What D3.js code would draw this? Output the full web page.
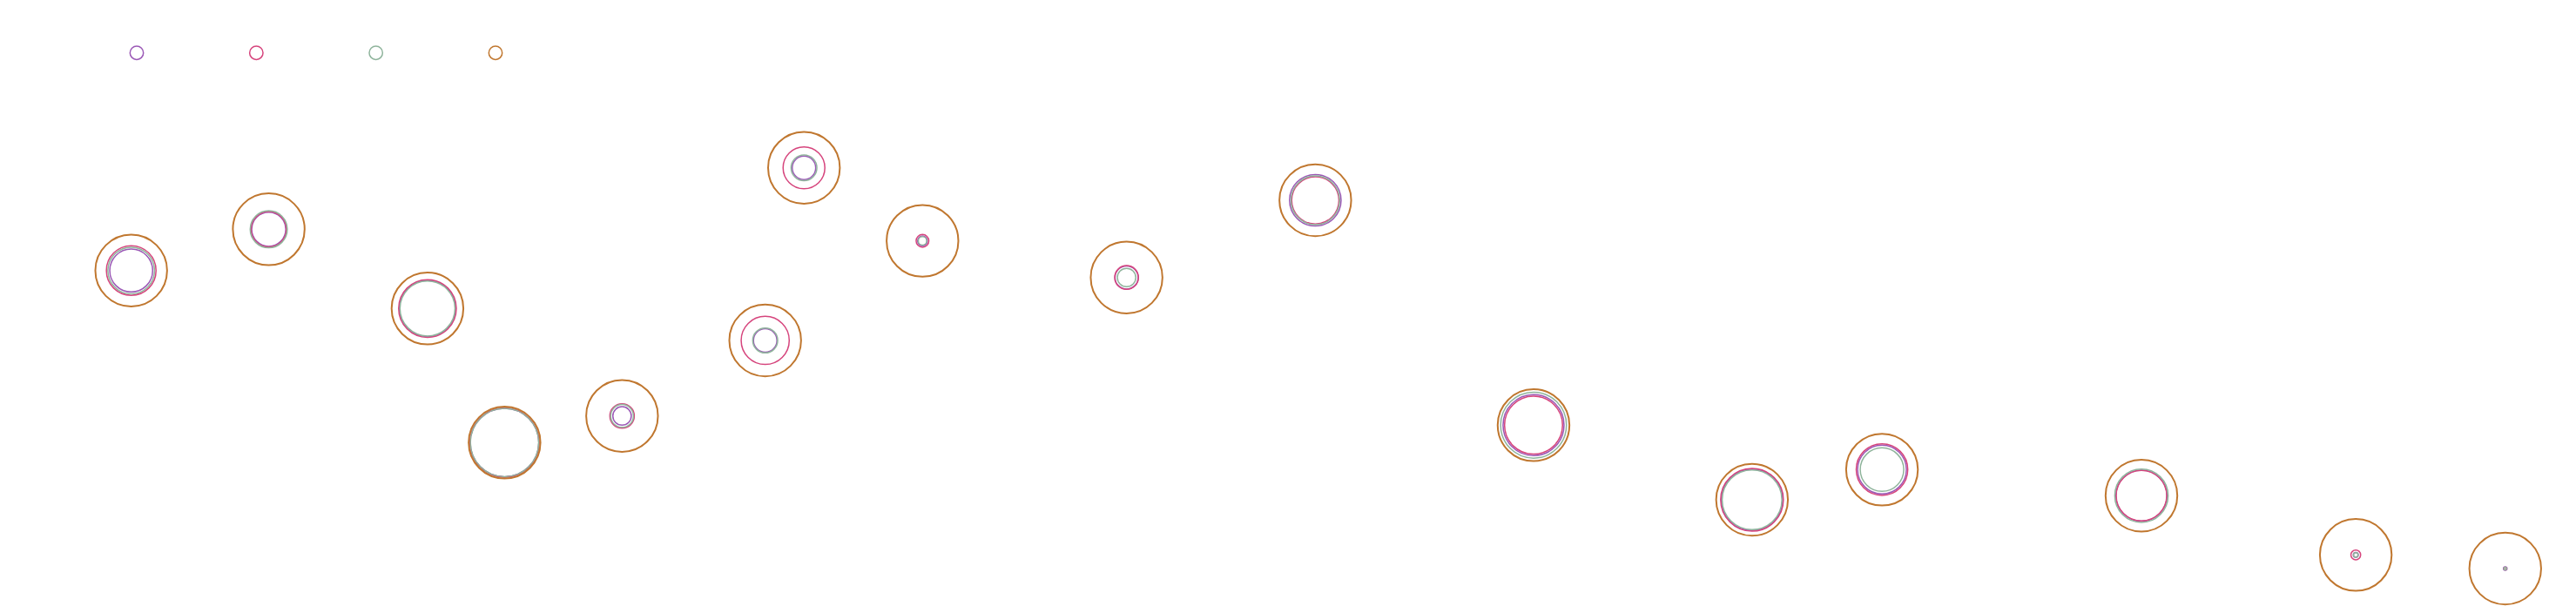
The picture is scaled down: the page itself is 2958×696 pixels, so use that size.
<!DOCTYPE html>
<html>
<head>
<meta charset="utf-8">
<script src="https://cdn.jsdelivr.net/npm/d3@7/dist/d3.min.js"></script>
<style>
  html, body { margin: 0; padding: 0; background: #ffffff; }
  svg { display: block; }
</style>
</head>
<body>
<svg id="chart" width="2958" height="696"></svg>
<script>
// ---- data ----
const seriesNames = ["Series A", "Series B", "Series C", "Series D"];
const seriesColors = ["#9b59b6", "#d6457d", "#8fb49c", "#c0772f"];

// bubble group positions (data units)
const xValues = [1.81, 7.45, 13.96, 17.12, 21.94, 27.81, 29.40, 34.26, 42.63, 50.37, 59.32, 68.28, 73.61, 84.25, 93.04, 99.17];
const yValues = [57.70, 65.11, 50.89, 26.83, 31.61, 45.16, 76.14, 63.02, 56.45, 70.31, 29.95, 16.56, 21.98, 17.30, 6.67, 4.22];

// bubble sizes per series (area-proportional values)
const seriesA = [35.7, 22.6, 61.5, 91.4, 6.6, 10.7, 10.7, 1.85, 10.4, 51.6, 72.2, 73.4, 46.2, 50.6, 0.46, 0.24];
const seriesB = [47.9, 24.3, 64.6, 92.9, 11.6, 44.9, 33.9, 3.14, 10.9, 43.3, 65.3, 76.4, 51.6, 49.6, 1.85, 0.13];
const seriesC = [42.3, 26.7, 58.8, 90.5, 10.1, 12.1, 12.9, 1.36, 6.6, 46.2, 84.2, 69.3, 36.8, 55.2, 0.40, 0.13];
const seriesD = [100, 100, 100, 100, 100, 100, 100, 100, 100, 100, 100, 100, 100, 100, 100, 100];
const seriesValues = [seriesA, seriesB, seriesC, seriesD];

// ---- scales ----
const svg = d3.select("#chart");
const x = d3.scaleLinear().domain([0, 100]).range([100, 2900]);
const y = d3.scaleLinear().domain([0, 100]).range([680, 40]);
const r = d3.scaleSqrt().domain([0, 100]).range([0, 41.2]);
const color = d3.scaleOrdinal().domain(seriesNames).range(seriesColors);
const strokeW = d => d === "Series D" ? 2 : 1.5;

// ---- legend ----
const legendX = d3.scalePoint().domain(seriesNames).range([157, 569]);
svg.append("g").attr("class", "legend")
  .selectAll("circle").data(seriesNames).join("circle")
  .attr("cx", d => legendX(d))
  .attr("cy", 60.7)
  .attr("r", 7.7)
  .attr("fill", "none")
  .attr("stroke", d => color(d))
  .attr("stroke-width", 1.5);

// ---- bubbles ----
const points = [];
seriesNames.forEach((name, si) => {
  seriesValues[si].forEach((v, i) => {
    points.push({ series: name, x: xValues[i], y: yValues[i], v: v });
  });
});

svg.append("g").attr("class", "bubbles")
  .selectAll("circle").data(points).join("circle")
  .attr("cx", d => x(d.x))
  .attr("cy", d => y(d.y))
  .attr("r", d => r(d.v))
  .attr("fill", "none")
  .attr("stroke", d => color(d.series))
  .attr("stroke-width", d => strokeW(d.series));
</script>
</body>
</html>
